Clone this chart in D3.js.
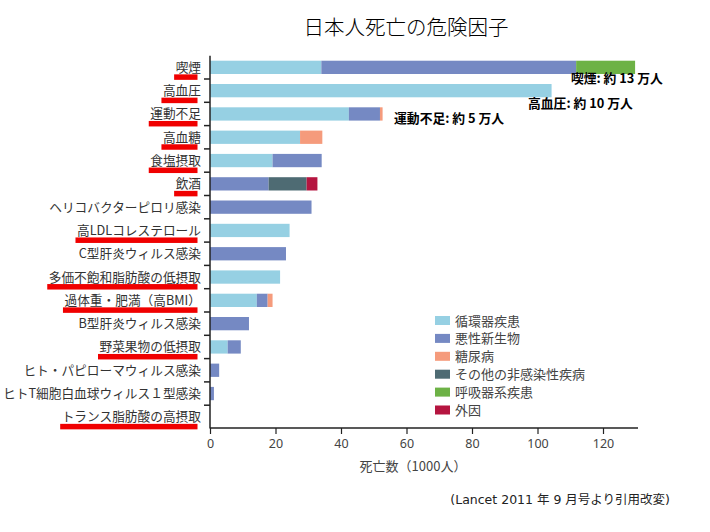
<!DOCTYPE html>
<html><head><meta charset="utf-8">
<script src="https://cdn.jsdelivr.net/npm/d3@7"></script>
<style>
html,body{margin:0;padding:0;background:#fff;}
svg{display:block;}
</style></head>
<body>
<svg id="chart" width="710" height="532"></svg>
<script>
const categories = ["喫煙","高血圧","運動不足","高血糖","食塩摂取","飲酒","ヘリコバクターピロリ感染","高LDLコレステロール","C型肝炎ウィルス感染","多価不飽和脂肪酸の低摂取","過体重・肥満（高BMI）","B型肝炎ウィルス感染","野菜果物の低摂取","ヒト・パピローマウィルス感染","ヒトT細胞白血球ウィルス１型感染","トランス脂肪酸の高摂取"];
const underlined = ["喫煙","高血圧","運動不足","高血糖","食塩摂取","飲酒","高LDLコレステロール","多価不飽和脂肪酸の低摂取","過体重・肥満（高BMI）","野菜果物の低摂取","トランス脂肪酸の高摂取"];
const seriesNames = ["循環器疾患","悪性新生物","糖尿病","その他の非感染性疾病","呼吸器系疾患","外因"];
const circulatory = [34, 104.3, 42.4, 27.5, 19.1, 0, 0, 24.3, 0, 21.4, 14.3, 0, 5.4, 0, 0, 0];
const neoplasms   = [77.8, 0, 9.5, 0, 15, 17.9, 31, 0, 23.2, 0, 3.3, 11.9, 4, 2.8, 1.2, 0];
const diabetes    = [0, 0, 0.8, 6.8, 0, 0, 0, 0, 0, 0, 1.5, 0, 0, 0, 0, 0];
const otherNCD    = [0, 0, 0, 0, 0, 11.6, 0, 0, 0, 0, 0, 0, 0, 0, 0, 0];
const respiratory = [18, 0, 0, 0, 0, 0, 0, 0, 0, 0, 0, 0, 0, 0, 0, 0];
const injuries    = [0, 0, 0, 0, 0, 3.3, 0, 0, 0, 0, 0, 0, 0, 0, 0, 0];
const xTicks = [0, 20, 40, 60, 80, 100, 120];
const annotations = [
  {cat:"喫煙", text:"喫煙: 約 13 万人", at:110.2, dy:16},
  {cat:"高血圧", text:"高血圧: 約 10 万人", at:97.1, dy:17.5},
  {cat:"運動不足", text:"運動不足: 約 5 万人", at:56.2, dy:9}
];
const colors = ["#96D0E3","#7589C3","#F59B7C","#4E6B73","#6DB246","#B51540"];
const seriesValues = [circulatory, neoplasms, diabetes, otherNCD, respiratory, injuries];

const svg = d3.select("#chart");
const x = d3.scaleLinear().domain([0, 130]).range([210, 635.75]);
const y = d3.scaleBand().domain(categories).range([55.7, 428.5]).paddingInner(0.43).paddingOuter(0.215);
const yStep = d3.scaleBand().domain(categories).range([55.7, 428.5]);

const rows = categories.map((c,i)=>{
  const r = {cat:c};
  seriesNames.forEach((s,j)=>{ r[s] = seriesValues[j][i]; });
  return r;
});
const stack = d3.stack().keys(seriesNames)(rows);

// title
svg.append("text").attr("x",406).attr("y",35).attr("text-anchor","middle")
  .attr("font-family","'Noto Sans CJK JP'").attr("font-size",20.5).attr("font-weight",300)
  .attr("fill","#000").text("日本人死亡の危険因子");

// bars
svg.append("g").selectAll("g").data(stack).join("g")
  .attr("fill",(d,i)=>colors[i])
  .selectAll("rect").data(d=>d).join("rect")
  .attr("x",d=>x(d[0])).attr("width",d=>Math.max(0,x(d[1])-x(d[0])))
  .attr("y",d=>y(d.data.cat)).attr("height",y.bandwidth());

// y axis
const yAxisG = svg.append("g").attr("transform","translate(210,0)");
yAxisG.append("line").attr("x1",0).attr("x2",0).attr("y1",55.7).attr("y2",428.5)
  .attr("stroke","#222").attr("stroke-width",1.5);
yAxisG.selectAll("line.tk").data(categories.slice(1)).join("line").attr("class","tk")
  .attr("x1",-6).attr("x2",0).attr("y1",d=>yStep(d)).attr("y2",d=>yStep(d))
  .attr("stroke","#222").attr("stroke-width",1.5);

// labels + underlines
const labG = svg.append("g");
categories.forEach(c=>{
  const cy = yStep(c) + yStep.bandwidth()/2;
  const t = labG.append("text").attr("x",201).attr("y",cy+4.5).attr("text-anchor","end")
    .attr("font-family","'Noto Sans CJK JP'").attr("font-size",12.7).attr("fill","#333").text(c);
  if (underlined.includes(c)) {
    const w = t.node().getComputedTextLength();
    labG.insert("rect","text").attr("x",201-w-1.5).attr("width",w-2)
      .attr("y",cy+7).attr("height",5.5).attr("fill","#F00000");
  }
});

// x axis
const xAxis = d3.axisBottom(x).tickValues(xTicks).tickSize(6).tickSizeOuter(0);
const xg = svg.append("g").attr("transform","translate(0,428)").call(xAxis);
xg.select(".domain").attr("stroke","#222").attr("stroke-width",1.5).attr("d","M210,0H638");
xg.selectAll(".tick line").attr("stroke","#222").attr("stroke-width",1.2);
xg.selectAll(".tick text").attr("fill","#444").attr("font-size",12.5).attr("dy","0.9em")
  .attr("font-family","'Noto Sans','Open Sans',sans-serif");

svg.append("text").attr("x",413).attr("y",471).attr("text-anchor","middle")
  .attr("font-family","'Noto Sans CJK JP'").attr("font-size",13).attr("fill","#444")
  .text("死亡数（1000人）");

// annotations
svg.append("g").selectAll("text").data(annotations).join("text")
  .attr("x",d=>x(d.at)).attr("y",d=>y(d.cat)+y.bandwidth()/2+d.dy)
  .attr("font-family","'Noto Sans CJK JP'").attr("font-size",12.8).attr("font-weight",700)
  .attr("fill","#000").text(d=>d.text);

// legend
const lg = svg.append("g").attr("transform","translate(435,316)");
seriesNames.forEach((s,i)=>{
  const g = lg.append("g").attr("transform",`translate(0,${i*17.9})`);
  g.append("rect").attr("x",0).attr("y",0).attr("width",15).attr("height",9).attr("fill",colors[i]);
  g.append("text").attr("x",20).attr("y",9.5).attr("font-family","'Noto Sans CJK JP'")
    .attr("font-size",13).attr("fill","#444").text(s);
});

// source
svg.append("text").attr("x",670).attr("y",504).attr("text-anchor","end")
  .attr("font-family","'DejaVu Sans','Noto Sans CJK JP'").attr("font-size",12.5).attr("fill","#222")
  .text("(Lancet 2011 年 9 月号より引用改変)");
</script>
</body></html>
